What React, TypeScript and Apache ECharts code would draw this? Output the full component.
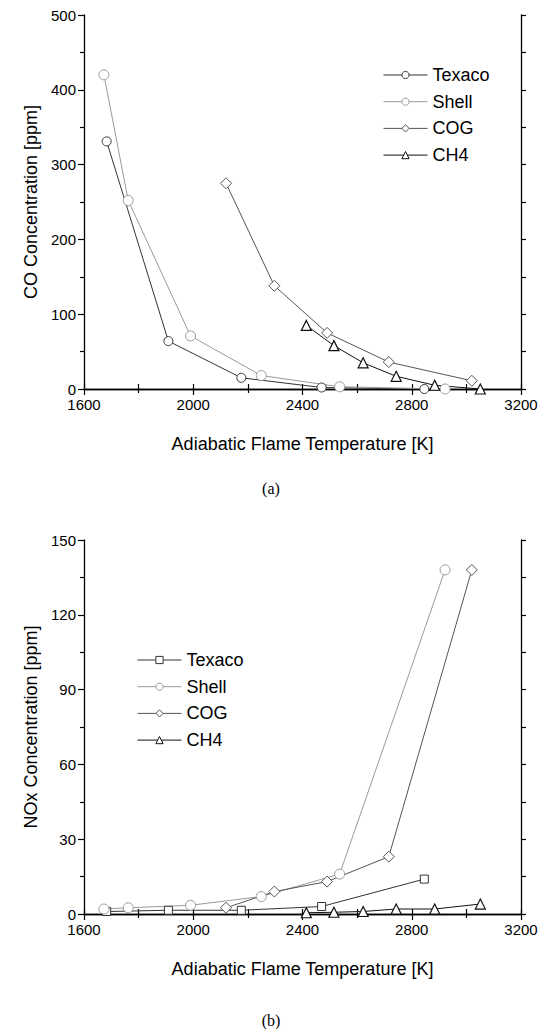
import React, { useEffect, useRef } from "react";
import * as echarts from "echarts";

// ---------- data (a) CO concentration ----------
const coTexaco: number[][] = [[1683, 331], [1909, 64], [2176, 15], [2470, 2], [2846, 0]];
const coShell: number[][] = [[1673, 420], [1762, 252], [1990, 71], [2249, 18], [2536, 3], [2922, 0]];
const coCOG: number[][] = [[2120, 275], [2297, 138], [2490, 75], [2716, 36], [3020, 11]];
const coCH4: number[][] = [[2414, 85], [2515, 58], [2622, 35], [2743, 17], [2884, 5], [3051, 0]];

// ---------- data (b) NOx concentration ----------
const noxTexaco: number[][] = [[1683, 1], [1909, 1.5], [2176, 1.5], [2470, 3], [2846, 14]];
const noxShell: number[][] = [[1673, 2], [1762, 2.5], [1990, 3.5], [2249, 7], [2536, 16], [2922, 138]];
const noxCOG: number[][] = [[2120, 2.5], [2297, 9], [2490, 13], [2716, 23], [3020, 138]];
const noxCH4: number[][] = [[2414, 0.5], [2515, 0.7], [2622, 1], [2743, 2], [2884, 2], [3051, 4]];

const seriesNames = ["Texaco", "Shell", "COG", "CH4"];
const xRange = [1600, 3200];
const coRange = [0, 500];
const noxRange = [0, 150];

const FONT = "'Liberation Sans', Arial, sans-serif";

const styles: Record<string, { color: string; symbol: string; size: number; bw: number }> = {
  Texaco: { color: "#333333", symbol: "circle", size: 9, bw: 1 },
  Shell: { color: "#9a9a9a", symbol: "circle", size: 10, bw: 1 },
  COG: { color: "#555555", symbol: "diamond", size: 11, bw: 1 },
  CH4: { color: "#111111", symbol: "triangle", size: 10, bw: 1.2 },
};

function mkSeries(name: string, data: number[][], symbolOverride?: string) {
  const s = styles[name];
  return {
    name,
    type: "line",
    data,
    symbol: symbolOverride || s.symbol,
    symbolSize: symbolOverride === "rect" ? 8 : s.size,
    showAllSymbol: true,
    lineStyle: { color: s.color, width: 1 },
    itemStyle: { color: "#ffffff", borderColor: s.color, borderWidth: s.bw },
    emphasis: { disabled: true },
    z: 3,
  };
}

function legendData() {
  return seriesNames.map((n) => ({
    name: n,
    itemStyle: { color: "#ffffff", borderColor: styles[n].color, borderWidth: 1 },
    lineStyle: { color: styles[n].color, width: 1 },
  }));
}

function buildOption(opts: {
  gridTop: number;
  yRange: number[];
  yInterval: number;
  yName: string;
  series: any[];
  legendLeft: number;
  legendTop: number;
  tag: string;
  tagTop: number;
}) {
  const axisLine = { show: true, lineStyle: { color: "#000", width: 1.3 } };
  const grid = { left: 84, top: opts.gridTop, width: 437, height: 374 };
  return {
    animation: false,
    backgroundColor: "#ffffff",
    grid,
    legend: {
      orient: "vertical",
      left: opts.legendLeft,
      top: opts.legendTop,
      itemWidth: 44,
      itemHeight: 9,
      itemGap: 6.7,
      data: legendData(),
      selectedMode: false,
      textStyle: { fontFamily: FONT, fontSize: 18, color: "#000", lineHeight: 20 },
    },
    xAxis: [
      {
        type: "value",
        position: "bottom",
        min: xRange[0],
        max: xRange[1],
        interval: 400,
        axisLine,
        axisTick: { show: true, inside: false, length: 6, lineStyle: { color: "#000", width: 1.2 } },
        minorTick: { show: true, splitNumber: 2, length: 4, lineStyle: { color: "#000", width: 1.2 } },
        splitLine: { show: false },
        minorSplitLine: { show: false },
        axisLabel: {
          fontFamily: FONT,
          fontSize: 15,
          color: "#000",
          margin: 8,
          lineHeight: 15,
          formatter: (v: number) => String(v),
        },
        name: "Adiabatic Flame Temperature [K]",
        nameLocation: "middle",
        nameGap: 46,
        nameTextStyle: { fontFamily: FONT, fontSize: 18, color: "#000" },
      },
      {
        type: "value",
        position: "top",
        min: xRange[0],
        max: xRange[1],
        interval: 200,
        axisLine,
        axisTick: { show: true, inside: false, length: 5, lineStyle: { color: "#000", width: 1.2 } },
        splitLine: { show: false },
        axisLabel: { show: false },
      },
    ],
    yAxis: [
      {
        type: "value",
        position: "left",
        min: opts.yRange[0],
        max: opts.yRange[1],
        interval: opts.yInterval,
        axisLine,
        axisTick: { show: true, inside: false, length: 6, lineStyle: { color: "#000", width: 1.2 } },
        minorTick: { show: true, splitNumber: 2, length: 4, lineStyle: { color: "#000", width: 1.2 } },
        splitLine: { show: false },
        minorSplitLine: { show: false },
        axisLabel: {
          fontFamily: FONT,
          fontSize: 15,
          color: "#000",
          margin: 8,
          lineHeight: 13,
          formatter: (v: number) => String(v),
        },
        name: opts.yName,
        nameLocation: "middle",
        nameGap: 42,
        nameRotate: 90,
        nameTextStyle: { fontFamily: FONT, fontSize: 18, color: "#000" },
      },
      {
        type: "value",
        position: "right",
        min: opts.yRange[0],
        max: opts.yRange[1],
        interval: opts.yInterval / 2,
        axisLine,
        axisTick: { show: true, inside: false, length: 5, lineStyle: { color: "#000", width: 1.2 } },
        splitLine: { show: false },
        axisLabel: { show: false },
      },
    ],
    graphic: [
      {
        type: "text",
        left: "center",
        top: opts.tagTop,
        style: {
          text: opts.tag,
          font: "16px 'Liberation Serif', 'Times New Roman', serif",
          fill: "#000",
        },
      },
    ],
    series: opts.series,
  };
}

function Chart({ option, height }: { option: any; height: number }) {
  const ref = useRef<HTMLDivElement>(null);
  useEffect(() => {
    if (!ref.current) return;
    const chart = echarts.init(ref.current, undefined, { renderer: "svg" });
    chart.setOption(option);
    return () => chart.dispose();
  }, [option]);
  return <div ref={ref} style={{ width: 542, height }} />;
}

const optionA = buildOption({
  gridTop: 15,
  yRange: coRange,
  yInterval: 100,
  yName: "CO Concentration [ppm]",
  series: [
    mkSeries("Texaco", coTexaco),
    mkSeries("Shell", coShell),
    mkSeries("COG", coCOG),
    mkSeries("CH4", coCH4),
  ],
  legendLeft: 378,
  legendTop: 60,
  tag: "(a)",
  tagTop: 480,
});

const optionB = buildOption({
  gridTop: 25,
  yRange: noxRange,
  yInterval: 30,
  yName: "NOx Concentration [ppm]",
  series: [
    mkSeries("Texaco", noxTexaco, "rect"),
    mkSeries("Shell", noxShell),
    mkSeries("COG", noxCOG),
    mkSeries("CH4", noxCH4),
  ],
  legendLeft: 132,
  legendTop: 130,
  tag: "(b)",
  tagTop: 497,
});

export default function App() {
  return (
    <div style={{ position: "absolute", left: 0, top: 0, width: 542, height: 1029, background: "#fff" }}>
      <Chart option={optionA} height={515} />
      <Chart option={optionB} height={514} />
    </div>
  );
}
